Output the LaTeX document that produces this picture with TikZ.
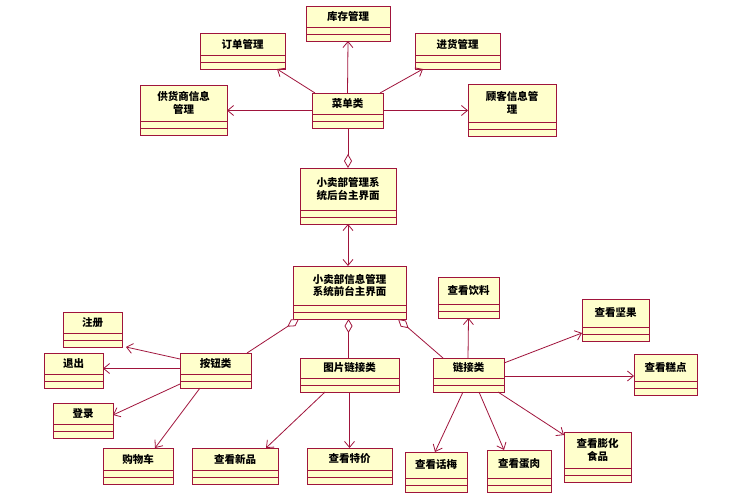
\documentclass[tikz,border=0pt]{standalone}
\usepackage{fontspec}
\setmainfont{Noto Sans CJK SC}
\usetikzlibrary{arrows.meta,calc}
\definecolor{bd}{RGB}{160,20,60}
\definecolor{fl}{RGB}{255,255,204}
\tikzset{cls/.style={draw=bd,fill=fl,line width=0.9pt,inner sep=0pt,outer sep=0pt},
 txt/.style={font=\fontsize{10.5}{12.5}\selectfont\bfseries,align=center,inner sep=0pt},
 ln/.style={draw=bd,line width=0.8pt},
 ar/.style={ln,-{Straight Barb[length=6pt,width=10pt]}},
 dm/.style={ln,{Diamond[fill=white,length=14pt,width=8pt]}-}}
\newcommand\ubox[6]{%
 \pgfmathsetmacro\bw{#4-#2}\pgfmathsetmacro\bh{#5-#3}%
 \node[cls,minimum width=\bw pt,minimum height=\bh pt] (#1) at ({(#2+#4)/2},{(#3+#5)/2}) {};
 \draw[ln] (#2,#5-14) -- (#4,#5-14); \draw[ln] (#2,#5-7) -- (#4,#5-7);
 \node[txt] at ({(#2+#4)/2},{(#3+#5-14)/2}) {#6};}
\begin{document}
\begin{tikzpicture}[x=1pt,y=-1pt]
\useasboundingbox[fill=white] (0,0) rectangle (731,500);
\ubox{kc}{306}{6}{390}{41}{库存管理}
\ubox{dd}{200}{33}{285}{69}{订单管理}
\ubox{jh}{415}{33}{500}{69}{进货管理}
\ubox{gh}{140}{85}{227}{135}{供货商信息\\管理}
\ubox{cd}{312}{93}{383}{128}{菜单类}
\ubox{gk}{468}{84}{556}{136}{顾客信息管\\理}
\ubox{ht}{300}{168}{396}{224}{小卖部管理系\\统后台主界面}
\ubox{qt}{293}{266}{406}{319}{小卖部信息管理\\系统前台主界面}
\ubox{zc}{63}{312}{122}{347}{注册}
\ubox{tc}{44}{353}{103}{388}{退出}
\ubox{dl}{53}{403}{113}{438}{登录}
\ubox{an}{180}{353}{251}{388}{按钮类}
\ubox{tp}{300}{358}{399}{392}{图片链接类}
\ubox{lj}{433}{358}{504}{392}{链接类}
\ubox{yl}{438}{277}{499}{318}{查看饮料}
\ubox{jg}{582}{299}{649}{341}{查看坚果}
\ubox{gd}{634}{354}{697}{395}{查看糕点}
\ubox{gw}{103}{448}{173}{484}{购物车}
\ubox{xp}{192}{448}{278}{484}{查看新品}
\ubox{tj}{307}{448}{392}{484}{查看特价}
\ubox{hm}{405}{452}{467}{492}{查看话梅}
\ubox{dr}{487}{450}{551}{492}{查看蛋肉}
\ubox{ph}{564}{432}{631}{482}{查看膨化\\食品}
% menu
\draw[ar] (cd.north) -- (kc.south);
\draw[ar] ($(cd.north west)+(3,0)$) -- ($(dd.south east)+(-8,0)$);
\draw[ar] ($(cd.north east)+(-3,0)$) -- ($(jh.south west)+(8,0)$);
\draw[ar] (cd.west) -- (cd.west -| gh.east);
\draw[ar] (cd.east) -- (cd.east -| gk.west);
\draw[dm] (ht.north) -- (ht.north |- cd.south);
\draw[ln,{Straight Barb[length=6pt,width=10pt]}-{Straight Barb[length=6pt,width=10pt]}] (ht.south) -- (ht.south |- qt.north);
% front
\coordinate (q1) at ($(qt.south)+(-1,0)$);
\coordinate (a1) at ($(an.west)+(0,-2)$);
\coordinate (l1) at ($(lj.east)+(0,1)$);
\draw[dm] ($(qt.south west)+(6,0)$) -- ($(an.north east)+(-4,0)$);
\draw[dm] (q1) -- (q1 |- tp.north);
\draw[dm] ($(qt.south east)+(-8,0)$) -- ($(lj.north west)+(10,0)$);
% buttons
\draw[ar] ($(an.north west)+(0,6)$) -- ($(zc.south east)+(4,0)$);
\draw[ar] (a1) -- (a1 -| tc.east);
\draw[ar] ($(an.south west)+(0,-4)$) -- ($(dl.north east)+(0,12)$);
\draw[ar] ($(an.south west)+(20,0)$) -- ($(gw.north east)+(-18,0)$);
% picture links
\draw[ar] ($(tp.south west)+(25,0)$) -- ($(xp.north east)+(-12,0)$);
\draw[ar] (tp.south -| tj.north) -- (tj.north);
% links
\draw[ar] ($(lj.north west)+(35,0)$) -- (yl.south);
\draw[ar] ($(lj.north east)+(0,5)$) -- ($(jg.south west)+(0,-8)$);
\draw[ar] (l1) -- (l1 -| gd.west);
\draw[ar] ($(lj.south west)+(30,0)$) -- ($(hm.north west)+(30,0)$);
\draw[ar] ($(lj.south west)+(46,0)$) -- ($(dr.north west)+(17,0)$);
\draw[ar] ($(lj.south east)+(-6,0)$) -- ($(ph.north west)+(0,3)$);
\end{tikzpicture}
\end{document}
